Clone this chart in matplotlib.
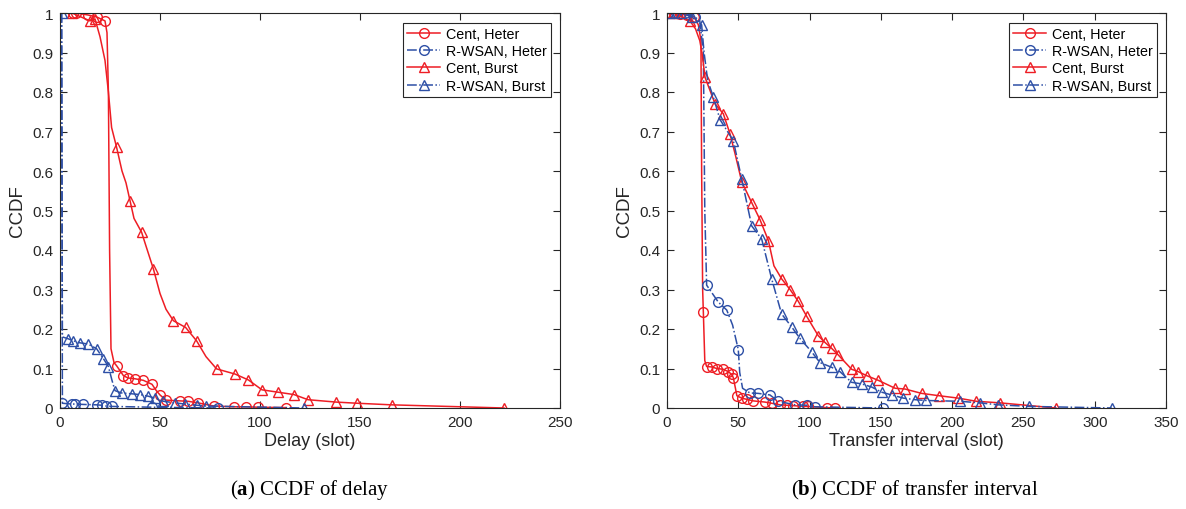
import matplotlib
matplotlib.use('Agg')
import matplotlib.pyplot as plt

RED = '#EE1D24'
BLUE = '#2D4FA6'
GRAY = '#262626'

# ---- (a) delay ----
a_cent_heter_x = [6.7, 8, 14, 18.3, 22.5, 23.5, 24.2, 24.8, 25.5, 27, 28.3, 31.7, 34, 37.5, 41.7,
                  46, 48, 50, 53, 60, 64, 69, 77, 87, 93, 99, 113]
a_cent_heter_y = [1, 1, 0.995, 0.99, 0.98, 0.95, 0.8, 0.4, 0.15, 0.115, 0.107, 0.082, 0.076, 0.074, 0.07,
                  0.06, 0.045, 0.033, 0.02, 0.018, 0.017, 0.013, 0.005, 0.003, 0.003, 0.002, 0.001]
a_cent_heter_mk = [0, 1, 2, 3, 4, 10, 11, 12, 13, 14, 15, 17, 18, 19, 20, 21, 22, 23, 24, 25, 26]

a_rwsan_heter_x = [0.8, 1.2, 5.8, 7.5, 11.7, 18.3, 20.8, 23, 25.8, 46, 79]
a_rwsan_heter_y = [1, 0.012, 0.01, 0.01, 0.009, 0.008, 0.007, 0.005, 0.004, 0.002, 0.0]
a_rwsan_heter_mk = [1, 2, 3, 4, 5, 6, 7, 8, 9, 10]

a_cent_burst_x = [6, 15, 17.5, 20, 22.5, 24.2, 25.8, 28.3, 31, 33, 35, 37, 40.8, 43, 46.7, 50, 53,
                  56.7, 62.8, 68.3, 73, 78.3, 87.5, 94.2, 101, 109, 117, 124, 138, 148.7, 165.8, 222]
a_cent_burst_y = [1, 0.98, 0.985, 0.94, 0.88, 0.8, 0.71, 0.66, 0.6, 0.57, 0.525, 0.48, 0.445, 0.41,
                  0.352, 0.29, 0.25, 0.221, 0.204, 0.17, 0.13, 0.099, 0.086, 0.071, 0.046, 0.04, 0.034,
                  0.021, 0.015, 0.012, 0.008, 0.0]
a_cent_burst_mk = [0, 1, 2, 7, 10, 12, 14, 17, 18, 19, 21, 22, 23, 24, 25, 26, 27, 28, 29, 30, 31]

a_rwsan_burst_x = [0.8, 1.2, 4.2, 6.7, 10, 14, 18.3, 21.7, 24.2, 26, 27.5, 30.8, 35.8, 40, 44, 47.5,
                   51.7, 57.5, 62.5, 68.3, 73, 122]
a_rwsan_burst_y = [1, 0.18, 0.175, 0.17, 0.165, 0.162, 0.15, 0.125, 0.105, 0.07, 0.044, 0.038, 0.036,
                   0.034, 0.03, 0.025, 0.017, 0.013, 0.01, 0.007, 0.005, 0.0]
a_rwsan_burst_mk = [0, 2, 3, 4, 5, 6, 7, 8, 10, 11, 12, 13, 14, 15, 16, 17, 18, 19, 20, 21]

# ---- (b) transfer interval ----
b_cent_heter_x = [1, 5, 9, 14, 19, 22, 23.8, 24.3, 25, 25.5, 26.5, 27.8, 31.3, 34.9, 39.5, 43, 45.4,
                  46.5, 48, 49, 52.4, 55.9, 60.5, 68.7, 73.4, 79.3, 84, 88.6, 95.6, 99, 112, 118]
b_cent_heter_y = [1, 1, 0.998, 0.995, 0.99, 0.97, 0.93, 0.6, 0.3, 0.242, 0.12, 0.105, 0.104, 0.1,
                  0.098, 0.092, 0.085, 0.077, 0.05, 0.031, 0.025, 0.022, 0.018, 0.015, 0.012, 0.008,
                  0.007, 0.006, 0.004, 0.004, 0.001, 0.0]
b_cent_heter_mk = [0, 1, 2, 3, 4, 9, 11, 12, 13, 14, 15, 16, 17, 19, 20, 21, 22, 23, 24, 25, 26, 27,
                   28, 29, 30, 31]

b_rwsan_heter_x = [1, 6, 12.6, 19.6, 23, 25.5, 26.5, 27.8, 36, 41.9, 46, 50, 51, 53, 58.2, 64, 72.2,
                   78, 89.8, 98, 103.8, 151.7]
b_rwsan_heter_y = [1, 1, 1, 0.99, 0.98, 0.9, 0.5, 0.311, 0.268, 0.248, 0.21, 0.148, 0.09, 0.05,
                   0.038, 0.037, 0.033, 0.017, 0.008, 0.007, 0.003, 0.0]
b_rwsan_heter_mk = [0, 1, 2, 3, 7, 8, 9, 11, 14, 15, 16, 17, 18, 19, 20, 21]

b_cent_burst_x = [2, 4.4, 16.1, 20, 23, 24.5, 26.7, 33.7, 39.5, 44.2, 48, 52.4, 59.4, 65.2, 71.1, 75,
                  80.4, 86.3, 92.1, 98, 106.1, 110.8, 115.5, 120.2, 129.5, 134.2, 140, 148.2, 160,
                  167, 178.6, 191, 204.3, 217, 233.6, 272.8]
b_cent_burst_y = [1, 1, 0.98, 0.96, 0.93, 0.9, 0.837, 0.77, 0.745, 0.694, 0.64, 0.573, 0.52, 0.477,
                  0.424, 0.36, 0.327, 0.3, 0.27, 0.232, 0.183, 0.166, 0.151, 0.134, 0.098, 0.092,
                  0.082, 0.07, 0.05, 0.048, 0.037, 0.031, 0.025, 0.017, 0.013, 0.0]
b_cent_burst_mk = [1, 2, 6, 7, 8, 9, 11, 12, 13, 14, 16, 17, 18, 19, 20, 21, 22, 23, 24, 25, 26, 27,
                   28, 29, 30, 31, 32, 33, 34, 35]

b_rwsan_burst_x = [2.1, 10, 17.3, 24.3, 26, 28.5, 32.5, 37.2, 46.5, 52.4, 59.4, 66.4, 73.4, 80.4,
                   87.5, 93.3, 101.5, 107.3, 115.5, 121.3, 129.5, 136.6, 143.6, 150.6, 157.6, 165.8,
                   174, 182, 205.5, 219.5, 232.4, 254, 311.9]
b_rwsan_burst_y = [1, 1, 0.99, 0.97, 0.9, 0.83, 0.787, 0.73, 0.677, 0.58, 0.461, 0.428, 0.327,
                   0.238, 0.205, 0.176, 0.142, 0.115, 0.103, 0.092, 0.065, 0.061, 0.053, 0.04, 0.033,
                   0.025, 0.021, 0.019, 0.017, 0.013, 0.008, 0.004, 0.0]
b_rwsan_burst_mk = [0, 1, 2, 3] + list(range(6, 33))

labels = ['Cent, Heter', 'R-WSAN, Heter', 'Cent, Burst', 'R-WSAN, Burst']

plt.rcParams['font.family'] = ['Liberation Sans', 'DejaVu Sans']
plt.rcParams['mathtext.fontset'] = 'custom'
plt.rcParams['mathtext.rm'] = 'Liberation Serif'
plt.rcParams['mathtext.bf'] = 'Liberation Serif:bold'

fig = plt.figure(figsize=(11.86, 5.10), dpi=100)
W, H = 1186, 510
ax1 = fig.add_axes([60 / W, 101 / H, 500 / W, 395 / H])
ax2 = fig.add_axes([667 / W, 101 / H, 499 / W, 395 / H])


def draw(ax, series, xmax, xlabel, legend_x):
    styles = [(RED, 'o', '-'), (BLUE, 'o', '-.'), (RED, '^', '-'), (BLUE, '^', '-.')]
    for (x, y, mk), (c, m, ls), lab in zip(series, styles, labels):
        ax.plot(x, y, color=c, ls=ls, lw=1.1, marker=m, markevery=mk, ms=7,
                mfc='none', mec=c, mew=1.0, label=lab)
    ax.set_xlim(0, xmax)
    ax.set_ylim(0, 1)
    ax.set_xticks(range(0, xmax + 1, 50))
    ax.set_yticks([i / 10 for i in range(11)])
    ax.set_yticklabels(['0'] + [f'0.{i}' for i in range(1, 10)] + ['1'])
    ax.tick_params(direction='in', top=True, right=True, length=5, width=0.8,
                   colors=GRAY, labelsize=11, pad=5)
    for s in ax.spines.values():
        s.set_color(GRAY)
        s.set_linewidth(0.8)
    ax.set_xlabel(xlabel, fontsize=13, color=GRAY, labelpad=2)
    ax.set_ylabel('CCDF', fontsize=13.5, color=GRAY, labelpad=4)
    leg = ax.legend(loc='upper right', bbox_to_anchor=(legend_x, 0.975), fontsize=10.3,
                    handlelength=2.3, handletextpad=0.4, labelspacing=0.22,
                    borderpad=0.3, borderaxespad=0, fancybox=False, framealpha=1)
    leg.get_frame().set_edgecolor(GRAY)
    leg.get_frame().set_linewidth(0.8)


draw(ax1, [(a_cent_heter_x, a_cent_heter_y, a_cent_heter_mk),
           (a_rwsan_heter_x, a_rwsan_heter_y, a_rwsan_heter_mk),
           (a_cent_burst_x, a_cent_burst_y, a_cent_burst_mk),
           (a_rwsan_burst_x, a_rwsan_burst_y, a_rwsan_burst_mk)],
     250, 'Delay (slot)', 0.982)
draw(ax2, [(b_cent_heter_x, b_cent_heter_y, b_cent_heter_mk),
           (b_rwsan_heter_x, b_rwsan_heter_y, b_rwsan_heter_mk),
           (b_cent_burst_x, b_cent_burst_y, b_cent_burst_mk),
           (b_rwsan_burst_x, b_rwsan_burst_y, b_rwsan_burst_mk)],
     350, 'Transfer interval (slot)', 0.982)

fig.text(310 / W, 1 - 490 / H, r'($\mathbf{a}$) CCDF of delay', ha='center', va='center',
         fontsize=15, family='Liberation Serif', color='black')
fig.text(915 / W, 1 - 490 / H, r'($\mathbf{b}$) CCDF of transfer interval', ha='center', va='center',
         fontsize=15, family='Liberation Serif', color='black')

fig.savefig('out.png', dpi=100)
